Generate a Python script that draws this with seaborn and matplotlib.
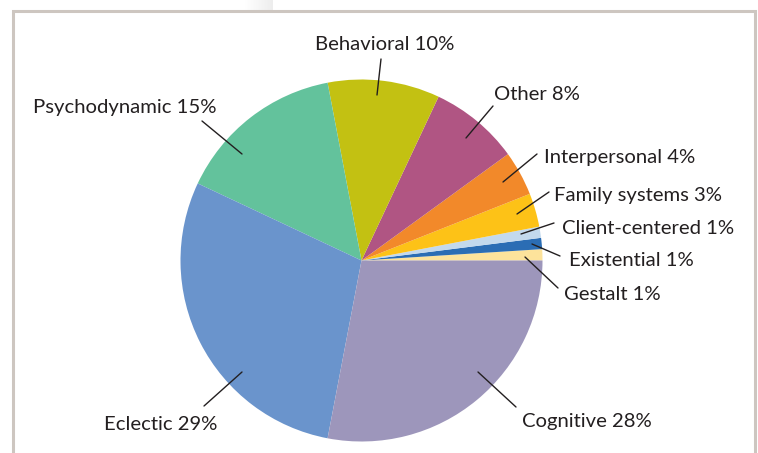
import matplotlib
matplotlib.use("Agg")
import matplotlib.pyplot as plt
import seaborn as sns
import numpy as np
from matplotlib.patches import Rectangle

# ---- data ----
categories = ["Gestalt", "Existential", "Client-centered", "Family systems",
              "Interpersonal", "Other", "Behavioral", "Psychodynamic",
              "Eclectic", "Cognitive"]
values = [1, 1, 1, 3, 4, 8, 10, 15, 29, 28]
colors = ["#fde39b", "#2b6db4", "#c3d9ed", "#fdc217", "#f2892a",
          "#b05583", "#c3c112", "#63c29c", "#6a94cc", "#9d96bb"]

sns.set_theme(style="white")
plt.rcParams['font.family'] = ['Lato', 'DejaVu Sans']

W, H = 758, 453
fig = plt.figure(figsize=(W / 100, H / 100), dpi=100)
ax = fig.add_axes([0, 0, 1, 1])

# faint gradient patch above the frame
grad = np.linspace(1.0, 0.93, 64)[None, :]
ax.imshow(np.dstack([grad, grad, grad]), extent=(245, 273, H - 10, H),
          aspect='auto', zorder=0, interpolation='bilinear')

# frame
ax.add_patch(Rectangle((13, -20), 742, H - 10.5 + 20, facecolor="white",
                       edgecolor="#cdc6c0", linewidth=2.2, zorder=1))

cx, cy, r = 361.5, H - 260.5, 181
ax.pie(values, colors=colors, startangle=0, counterclock=True,
       center=(cx, cy), radius=r, frame=True,
       wedgeprops=dict(linewidth=0, zorder=2))
ax.set_xlim(0, W)
ax.set_ylim(0, H)
ax.set_aspect('equal')
ax.axis('off')

# label layout: (text x, text y, ha, line start (inside), line end (outside))
layout = {
    "Gestalt": (564, 295, "left", (525, 257), (558, 288)),
    "Existential": (569, 261, "left", (532, 244), (560, 256)),
    "Client-centered": (562, 229, "left", (521, 234), (554, 223)),
    "Family systems": (554, 195, "left", (517, 214), (549, 192)),
    "Interpersonal": (544, 158, "left", (503, 182), (537, 154)),
    "Other": (494, 94, "left", (466, 138), (493, 106)),
    "Behavioral": (384.5, 45, "center", (377, 95), (381, 59)),
    "Psychodynamic": (33, 108, "left", (242, 154), (202, 121)),
    "Eclectic": (104, 425, "left", (242, 372), (204, 406)),
    "Cognitive": (522, 422, "left", (478, 372), (516, 407)),
}

for cat, val in zip(categories, values):
    tx, ty, ha, p0, p1 = layout[cat]
    ax.plot([p0[0], p1[0]], [H - p0[1], H - p1[1]], color="#231f20",
            linewidth=1.0, zorder=3)
    ax.text(tx, H - ty, f"{cat} {val}%", ha=ha, va="center",
            fontsize=14.6, color="#231f20", zorder=4)

fig.savefig("out.png", dpi=100)
